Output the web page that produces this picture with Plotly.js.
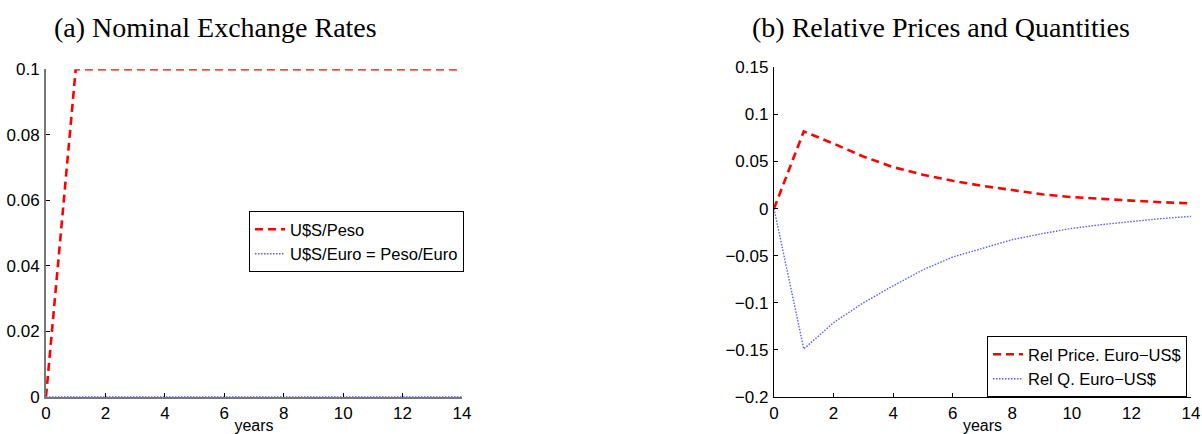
<!DOCTYPE html>
<html>
<head>
<meta charset="utf-8">
<script src="https://cdn.plot.ly/plotly-3.0.1.min.js"></script>
<style>html,body{margin:0;padding:0;background:#fff;}#chart{width:1202px;height:434px;}</style>
</head>
<body>
<div id="chart"></div>
<script>
// Panel (a): nominal exchange rates
const yearsA = [0, 1, 2, 3, 4, 5, 6, 7, 8, 9, 10, 11, 12, 13, 14];
const usdPeso = [0, 0.1, 0.1, 0.1, 0.1, 0.1, 0.1, 0.1, 0.1, 0.1, 0.1, 0.1, 0.1, 0.1, 0.1];
const usdEuro = [0, 0, 0, 0, 0, 0, 0, 0, 0, 0, 0, 0, 0, 0, 0];
// Panel (b): relative prices and quantities
const yearsB = [0, 1, 2, 3, 4, 5, 6, 7, 8, 9, 10, 11, 12, 13, 14];
const relPrice = [0, 0.082, 0.069, 0.0553, 0.044, 0.036, 0.0295, 0.0241, 0.0197, 0.0152, 0.0122, 0.0101, 0.0085, 0.0068, 0.0056];
const relQ = [0, -0.149, -0.121, -0.100, -0.082, -0.065, -0.0514, -0.0418, -0.033, -0.0266, -0.021, -0.017, -0.0138, -0.0106, -0.0082];

const xTicks = [0, 2, 4, 6, 8, 10, 12, 14];
const xTickText = ['0', '2', '4', '6', '8', '10', '12', '14'];
const yTicksA = [0, 0.02, 0.04, 0.06, 0.08, 0.1];
const yTickTextA = ['0', '0.02', '0.04', '0.06', '0.08', '0.1'];
const yTicksB = [-0.2, -0.15, -0.1, -0.05, 0, 0.05, 0.1, 0.15];
const yTickTextB = ['\u22120.2', '\u22120.15', '\u22120.1', '\u22120.05', '0', '0.05', '0.1', '0.15'];

const titleA = '(a) Nominal Exchange Rates';
const titleB = '(b) Relative Prices and Quantities';
const namesA = ['U$S/Peso', 'U$S/Euro = Peso/Euro'];
const namesB = ['Rel Price. Euro\u2212US$', 'Rel Q. Euro\u2212US$'];

const RED = 'rgb(255,0,0)';
const BLUE = 'rgb(90,90,255)';
const redLine = {color: RED, width: 2.6, dash: '8px,5px'};
const blueLine = {color: BLUE, width: 1.4, dash: '1.5px,1.5px'};

const traces = [
  {x: yearsA, y: usdPeso, name: namesA[0], mode: 'lines', line: redLine, xaxis: 'x', yaxis: 'y', legend: 'legend'},
  {x: yearsA, y: usdEuro, name: namesA[1], mode: 'lines', line: blueLine, xaxis: 'x', yaxis: 'y', legend: 'legend'},
  {x: yearsB, y: relPrice, name: namesB[0], mode: 'lines', line: redLine, xaxis: 'x2', yaxis: 'y2', legend: 'legend2'},
  {x: yearsB, y: relQ, name: namesB[1], mode: 'lines', line: blueLine, xaxis: 'x2', yaxis: 'y2', legend: 'legend2'}
];

const SANS = 'Liberation Sans, Arial, sans-serif';
const tickFont = {family: SANS, size: 17, color: '#000'};
function xAxis(domain, anchor, lineColor) {
  return {
    domain: domain, anchor: anchor, range: [0, 14], tickvals: xTicks, ticktext: xTickText,
    ticks: 'inside', ticklen: 4, tickcolor: '#000', tickwidth: 1,
    showline: true, linecolor: lineColor, linewidth: lineColor === '#000' ? 1.2 : 2,
    showgrid: false, zeroline: false, tickfont: tickFont, ticklabelstandoff: 0,
    title: {text: 'years', font: {family: SANS, size: 16, color: '#000'}, standoff: 0},
    fixedrange: true
  };
}
function yAxis(domain, anchor, range, tv, tt, lineColor) {
  return {
    domain: domain, anchor: anchor, range: range, tickvals: tv, ticktext: tt,
    ticks: 'inside', ticklen: 4, tickcolor: '#000', tickwidth: 1,
    showline: true, linecolor: lineColor, linewidth: lineColor === '#000' ? 1.2 : 2,
    showgrid: false, zeroline: false, tickfont: tickFont, ticklabelstandoff: 1,
    fixedrange: true
  };
}

const legendFont = {family: SANS, size: 16.5, color: '#000'};
const layout = {
  width: 1202, height: 434,
  margin: {l: 0, r: 0, t: 0, b: 0},
  paper_bgcolor: '#fff', plot_bgcolor: '#fff',
  xaxis: xAxis([46 / 1202, 462 / 1202], 'y', '#777'),
  yaxis: yAxis([0.0859, 0.8403], 'x', [0, 0.1], yTicksA, yTickTextA, '#777'),
  xaxis2: xAxis([774 / 1202, 1191 / 1202], 'y2', '#000'),
  yaxis2: yAxis([0.0853, 0.8449], 'x2', [-0.2, 0.15], yTicksB, yTickTextB, '#000'),
  legend: {
    x: 249 / 1202, y: (434 - 211) / 434, xanchor: 'left', yanchor: 'top',
    bgcolor: '#fff', bordercolor: '#000', borderwidth: 1, font: legendFont,
    tracegroupgap: 0, itemwidth: 30
  },
  legend2: {
    x: 1187 / 1202, y: 37 / 434, xanchor: 'right', yanchor: 'bottom',
    bgcolor: '#fff', bordercolor: '#000', borderwidth: 1, font: legendFont,
    tracegroupgap: 0, itemwidth: 30
  },
  showlegend: true,
  annotations: [
    {text: titleA, xref: 'paper', yref: 'paper', x: 215 / 1202, y: (434 - 27) / 434, xanchor: 'center', yanchor: 'middle', showarrow: false,
     font: {family: 'Liberation Serif, Times New Roman, serif', size: 28, color: '#000'}},
    {text: titleB, xref: 'paper', yref: 'paper', x: 941 / 1202, y: (434 - 27) / 434, xanchor: 'center', yanchor: 'middle', showarrow: false,
     font: {family: 'Liberation Serif, Times New Roman, serif', size: 28, color: '#000'}}
  ]
};

Plotly.newPlot('chart', traces, layout, {displayModeBar: false, staticPlot: true});
</script>
</body>
</html>
